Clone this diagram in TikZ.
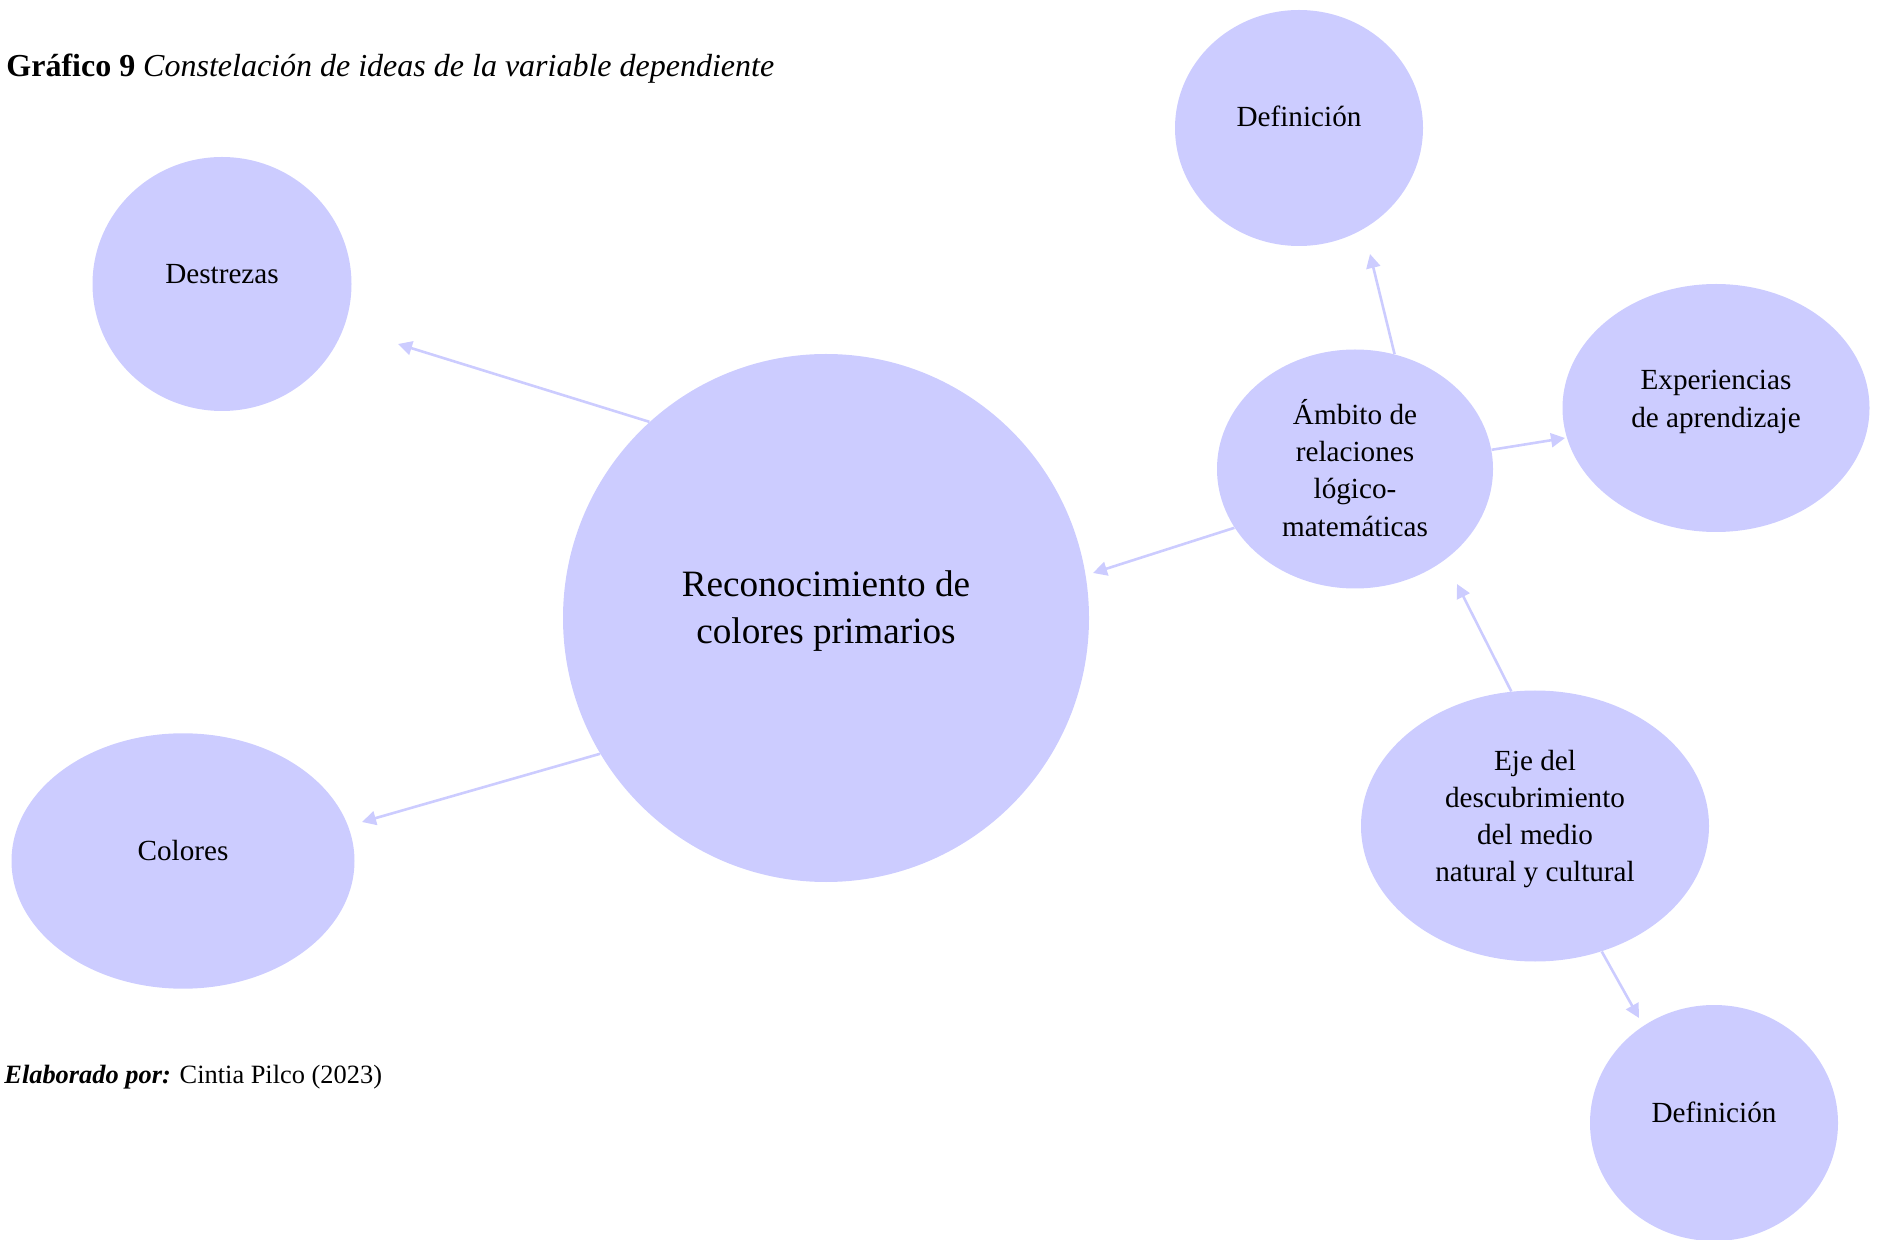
\documentclass[tikz,border=0pt]{standalone}
\usepackage{fontspec}
\setmainfont{Liberation Serif}
\usetikzlibrary{arrows.meta,shapes.geometric}
\definecolor{bub}{RGB}{204,204,255}
\tikzset{
  bubble/.style={ellipse, fill=bub, draw=none, inner sep=0pt},
  lbl/.style={align=center, font=\fontsize{14.6}{18.6}\selectfont, inner sep=0pt},
  conn/.style={draw=bub, line width=1.3pt, -{Triangle[length=7pt,width=7pt]}}
}
\begin{document}
\begin{tikzpicture}[x=0.5pt,y=-0.5pt]
\useasboundingbox (0,0) rectangle (1880,1240);
% bubbles
\node[bubble, minimum width=129.5pt, minimum height=127pt] (des) at (222,284) {};
\node[bubble, minimum width=263pt, minimum height=264pt] (cen) at (826,618) {};
\node[bubble, minimum width=171.5pt, minimum height=127.7pt] (col) at (183,861) {};
\node[bubble, minimum width=124pt, minimum height=118pt] (def1) at (1299,128) {};
\node[bubble, minimum width=138pt, minimum height=119.5pt] (amb) at (1355,469) {};
\node[bubble, minimum width=153.5pt, minimum height=124pt] (exp) at (1716,408) {};
\node[bubble, minimum width=174pt, minimum height=135.5pt] (eje) at (1535,826) {};
\node[bubble, minimum width=124pt, minimum height=118pt] (def2) at (1714,1123) {};
% labels
\node[lbl] (tdes) at (222,274) {Destrezas};
\node[lbl, font=\fontsize{18.6}{23.4}\selectfont] (tcen) at (826,611) {Reconocimiento de\\colores primarios};
\node[lbl] (tcol) at (183,851) {Colores};
\node[lbl] (tdef1) at (1299,116) {Definición};
\node[lbl] (tamb) at (1355,468) {Ámbito de\\relaciones\\lógico-\\matemáticas};
\node[lbl] (texp) at (1716,402) {Experiencias\\de aprendizaje};
\node[lbl] (teje) at (1535,819) {Eje del\\descubrimiento\\del medio\\natural y cultural};
\node[lbl] (tdef2) at (1714,1112) {Definición};
% arrow tips
\coordinate (pdes) at (398,344);
\coordinate (pcol) at (362,822);
\coordinate (pcen) at (1093,573);
\coordinate (pdef1) at (1370,254);
\coordinate (pexp) at (1565,438);
\coordinate (pamb) at (1457,584);
\coordinate (pdef2) at (1639,1018);
% connectors
\draw[conn] (cen.132.8) -- (pdes);
\draw[conn] (cen.211.2) -- (pcol);
\draw[conn] (amb.206.9) -- (pcen);
\draw[conn] (amb.71.6) -- (pdef1);
\draw[conn] (amb.8.7) -- (pexp);
\draw[conn] (eje.100.6) -- (pamb);
\draw[conn] (eje.298.2) -- (pdef2);
% captions
\node[anchor=base west, inner sep=0pt, font=\fontsize{16}{19}\selectfont] (title) at (6,77) {\textbf{Gráfico 9} \textit{Constelación de ideas de la variable dependiente}};
\node[anchor=base west, inner sep=0pt, font=\fontsize{13.2}{16}\selectfont] (src) at (4,1083) {\textbf{\textit{Elaborado por:}} Cintia Pilco (2023)};
\end{tikzpicture}
\end{document}
